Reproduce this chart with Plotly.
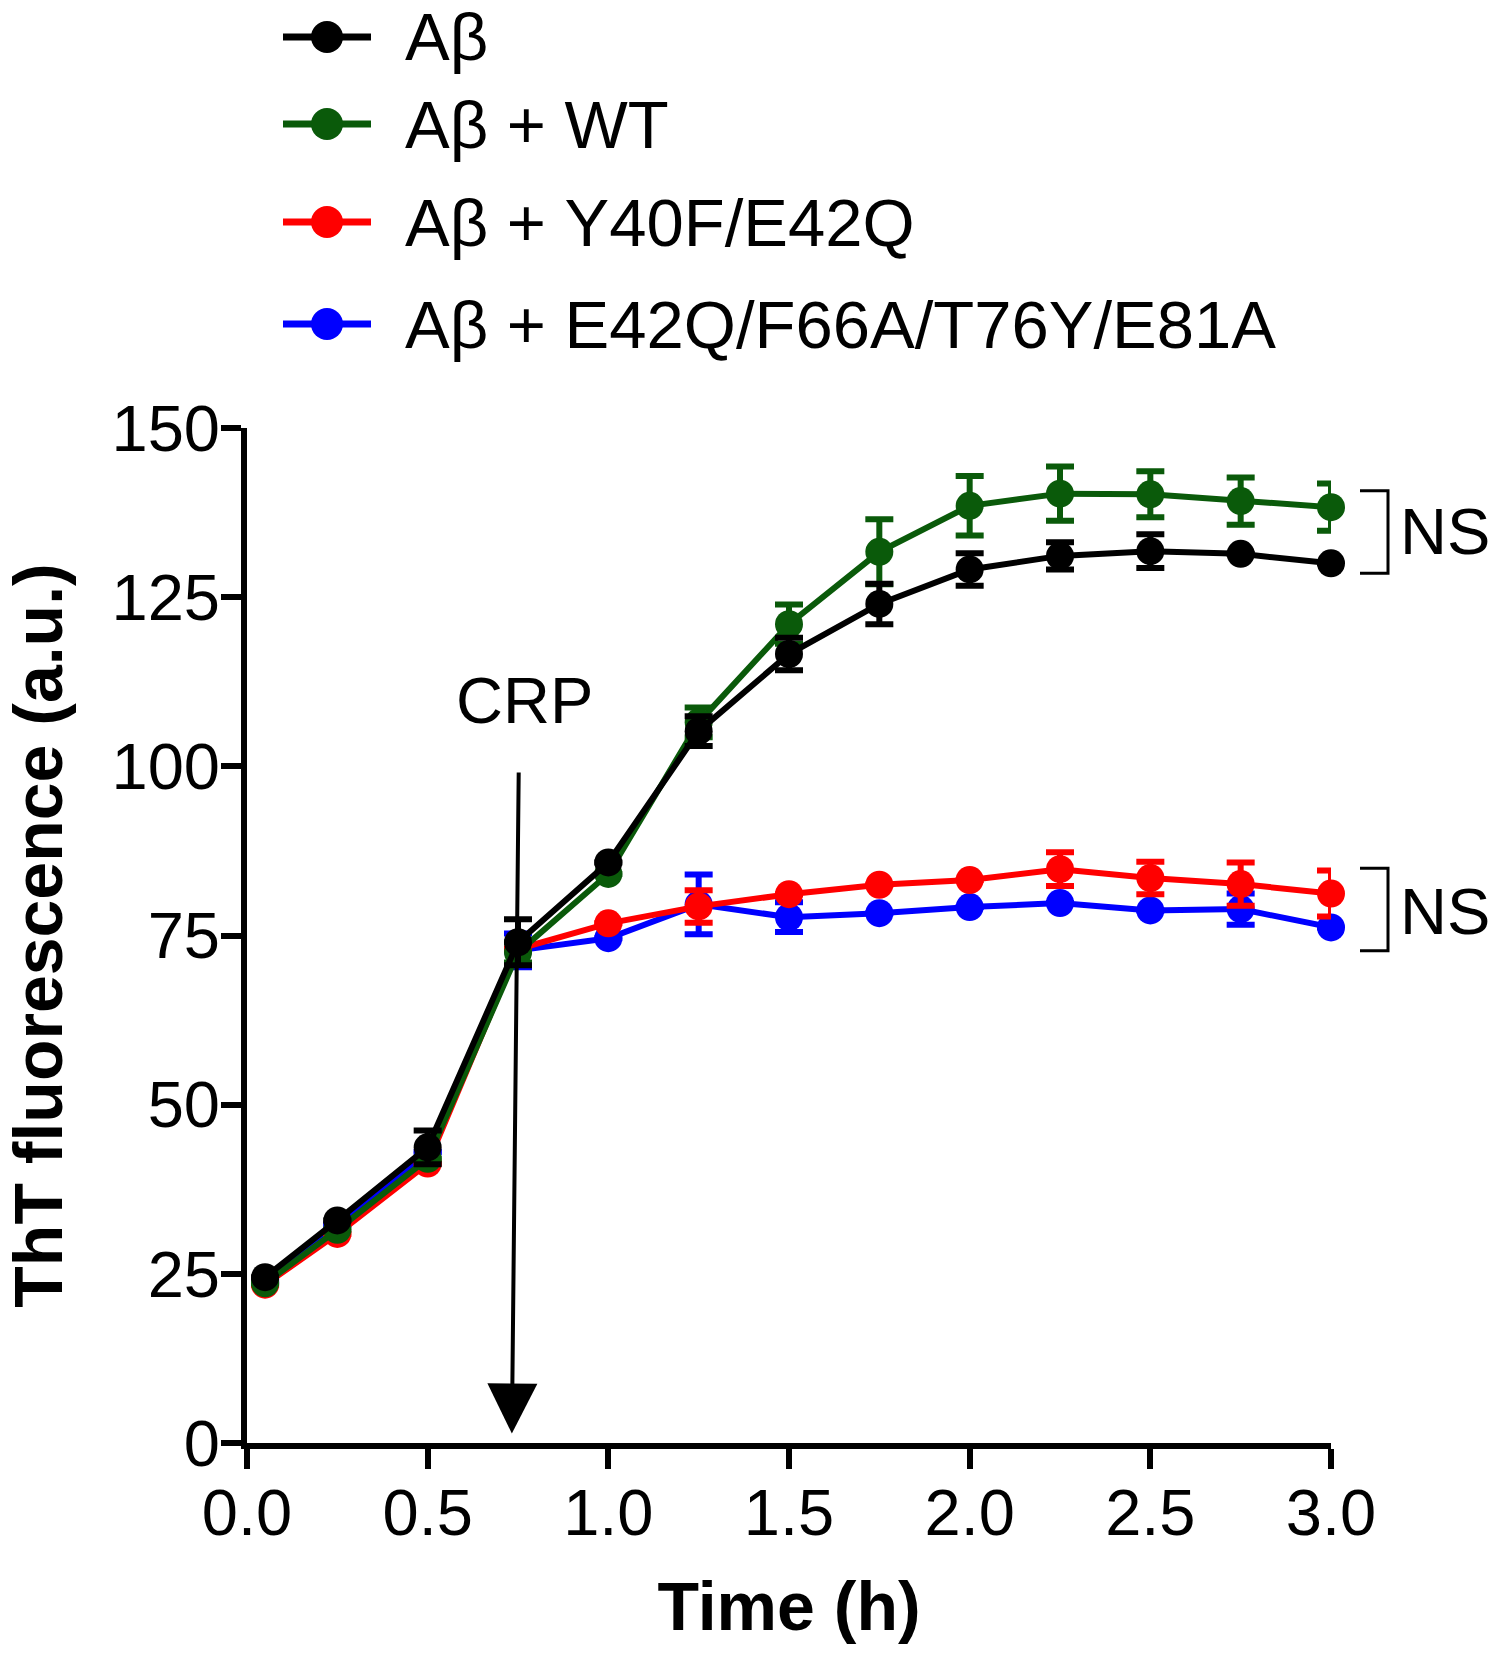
import plotly.graph_objects as go

# ---------------- data ----------------
time_h = [0.05, 0.25, 0.5, 0.75, 1.0, 1.25, 1.5, 1.75, 2.0, 2.25, 2.5, 2.75, 3.0]

abeta = [24.5, 32.9, 43.7, 74.0, 85.8, 105.2, 116.6, 124.0, 129.1, 131.1, 131.8, 131.4, 130.0]
abeta_err = [0, 0, 2.5, 3.4, 0, 2.2, 2.4, 3.0, 2.4, 2.0, 2.5, 0, 0]

abeta_wt = [23.6, 31.5, 42.0, 72.5, 84.1, 106.5, 121.0, 131.7, 138.5, 140.3, 140.2, 139.2, 138.3]
abeta_wt_err = [0, 0, 0, 1.5, 0, 2.2, 2.9, 4.8, 4.4, 4.0, 3.4, 3.5, 3.5]

abeta_y40f = [23.4, 30.9, 41.3, 73.0, 76.8, 79.3, 81.1, 82.5, 83.2, 84.8, 83.5, 82.6, 81.2]
abeta_y40f_err = [0, 0, 0, 0, 0, 2.4, 0, 0, 0, 2.5, 2.4, 3.2, 3.4]

abeta_quad = [23.8, 32.3, 43.0, 72.8, 74.6, 79.6, 77.7, 78.3, 79.2, 79.8, 78.7, 78.9, 76.2]
abeta_quad_err = [0, 0, 0, 2.5, 0, 4.4, 2.2, 0, 0, 0, 0, 2.3, 0]

series_names = ["Aβ", "Aβ + WT", "Aβ + Y40F/E42Q", "Aβ + E42Q/F66A/T76Y/E81A"]
series_values = [abeta, abeta_wt, abeta_y40f, abeta_quad]
series_errors = [abeta_err, abeta_wt_err, abeta_y40f_err, abeta_quad_err]
series_colors = ["#000000", "#0a5a0a", "#ff0000", "#0000ff"]

x_tickvals = [0, 0.5, 1.0, 1.5, 2.0, 2.5, 3.0]
x_ticktext = ["0.0", "0.5", "1.0", "1.5", "2.0", "2.5", "3.0"]
y_tickvals = [0, 25, 50, 75, 100, 125, 150]
y_ticktext = ["0", "25", "50", "75", "100", "125", "150"]

# CRP arrow (data coords): tail and tip
crp_tail = (0.752, 99.3)
crp_tip = (0.733, 1.4)
crp_label = (0.769, 109.8)

# ---------------- layout constants ----------------
W, H = 1500, 1657
L, R, T, B = 247, 169, 428, 214
FONT = "Liberation Sans, Arial, Helvetica, sans-serif"
FS = 65
FS_TITLE = 68
FS_LEG = 67


def pxx(px):
    return (px - L) / (W - L - R)


def pxy(py):
    return (H - B - py) / (H - T - B)


fig = go.Figure()

# draw order: blue, red, green, black (black on top)
for i in [3, 2, 1, 0]:
    fig.add_trace(go.Scatter(
        x=time_h, y=series_values[i], name=series_names[i],
        mode="lines+markers",
        line=dict(color=series_colors[i], width=6),
        marker=dict(color=series_colors[i], size=28, line=dict(width=0)),
        error_y=dict(type="data", array=series_errors[i], visible=True,
                     color=series_colors[i], thickness=6, width=14),
        cliponaxis=False, showlegend=False,
    ))

shapes = []
annotations = []

# custom legend
legend_rows = [37, 124, 222, 324]
for name, color, row in zip(series_names, series_colors, legend_rows):
    shapes.append(dict(type="line", xref="paper", yref="paper",
                       x0=pxx(283), x1=pxx(371), y0=pxy(row), y1=pxy(row),
                       line=dict(color=color, width=7)))
    shapes.append(dict(type="circle", xref="paper", yref="paper",
                       xsizemode="pixel", ysizemode="pixel",
                       xanchor=pxx(327), yanchor=pxy(row),
                       x0=-16, x1=16, y0=-16, y1=16,
                       fillcolor=color, line=dict(width=0)))
    annotations.append(dict(text=name, xref="paper", yref="paper",
                            x=pxx(403), y=pxy(row), xanchor="left", yanchor="middle",
                            showarrow=False, font=dict(family=FONT, size=FS_LEG, color="black")))

# NS brackets
for (top, bot, ty) in [(490.7, 573.3, 531.5), (868.3, 950.7, 911)]:
    shapes.append(dict(type="path", xref="paper", yref="paper",
                       path="M {a},{b} L {c},{b} L {c},{d} L {a},{d}".format(
                           a=pxx(1360), b=pxy(top), c=pxx(1388), d=pxy(bot)),
                       line=dict(color="black", width=3)))
    annotations.append(dict(text="NS", xref="paper", yref="paper",
                            x=pxx(1398), y=pxy(ty), xanchor="left", yanchor="middle",
                            showarrow=False, font=dict(family=FONT, size=FS, color="black")))

# CRP arrow and label
annotations.append(dict(text="", x=crp_tip[0], y=crp_tip[1], xref="x", yref="y",
                        ax=crp_tail[0], ay=crp_tail[1], axref="x", ayref="y",
                        showarrow=True, arrowhead=2, arrowsize=2.5, arrowwidth=4,
                        arrowcolor="black"))
annotations.append(dict(text="CRP", x=crp_label[0], y=crp_label[1], xref="x", yref="y",
                        showarrow=False, xanchor="center", yanchor="middle",
                        font=dict(family=FONT, size=FS, color="black")))

axis_common = dict(showline=True, linewidth=6, linecolor="black", ticks="outside",
                   ticklen=20, tickwidth=6, tickcolor="black", showgrid=False,
                   zeroline=False, tickfont=dict(family=FONT, size=FS, color="black"))

fig.update_layout(
    width=W, height=H,
    margin=dict(l=L, r=R, t=T, b=B, autoexpand=False),
    paper_bgcolor="white", plot_bgcolor="white",
    showlegend=False,
    xaxis=dict(range=[0, 3.0], tickvals=x_tickvals, ticktext=x_ticktext,
               ticklabelstandoff=-12,
               title=dict(text="Time (h)", standoff=36,
                          font=dict(family=FONT, size=FS_TITLE, color="black", weight="bold")),
               **axis_common),
    yaxis=dict(range=[0, 150], tickvals=y_tickvals, ticktext=y_ticktext,
               ticklabelstandoff=-12,
               title=dict(text="ThT fluorescence (a.u.)", standoff=42,
                          font=dict(family=FONT, size=FS_TITLE, color="black", weight="bold")),
               **axis_common),
    shapes=shapes,
    annotations=annotations,
)

fig.write_html("out.html", config={"displayModeBar": False},
               post_script="document.body.style.margin='0';document.body.style.overflow='hidden';")
